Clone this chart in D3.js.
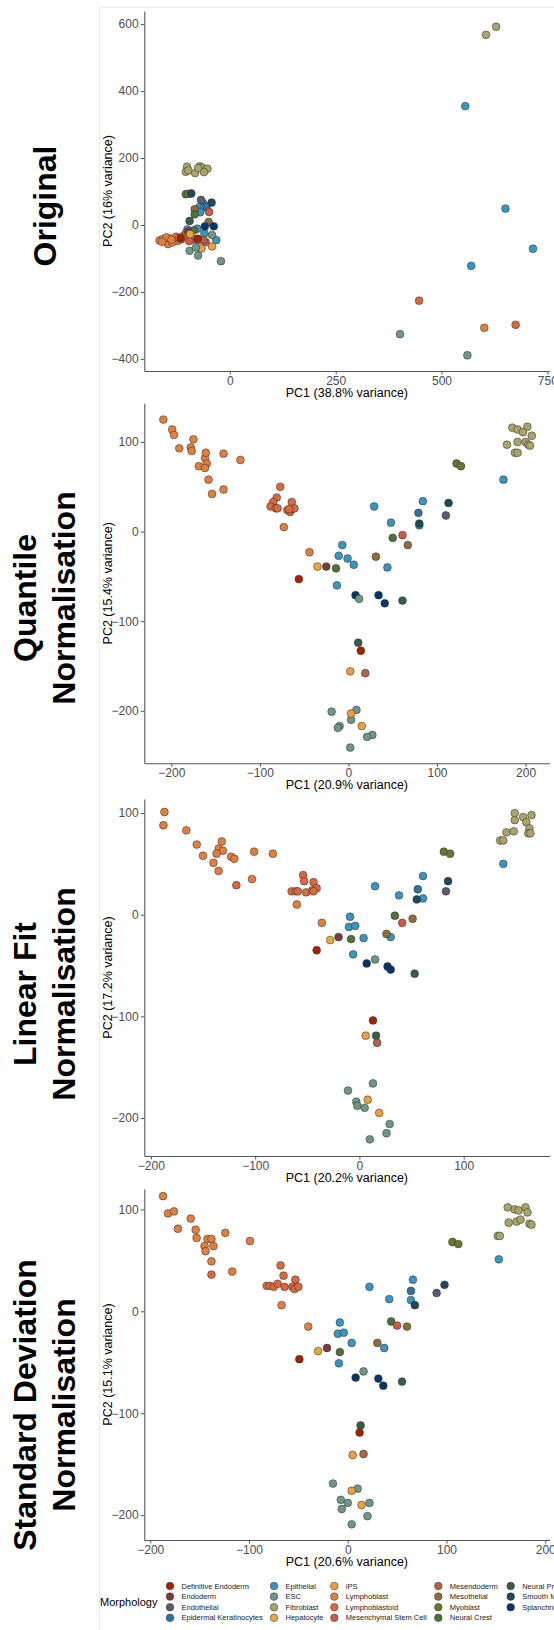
<!DOCTYPE html>
<html>
<head>
<meta charset="utf-8">
<script src="https://cdn.jsdelivr.net/npm/d3@7"></script>
<style>
  body { margin: 0; background: #fff; }
  svg { display: block; font-family: "Liberation Sans", Arial, Helvetica, sans-serif; }
</style>
</head>
<body>
<svg id="chart" width="554" height="1630"></svg>
<script>
// morphology categories and their colours (legend order)
const morphologies = [
  'Definitive Endoderm', 'Endoderm', 'Endothelial', 'Epidermal Keratinocytes',
  'Epithelial', 'ESC', 'Fibroblast', 'Hepatocyte',
  'iPS', 'Lymphoblast', 'Lymphoblastoid', 'Mesenchymal Stem Cell',
  'Mesendoderm', 'Mesothelial', 'Myoblast', 'Neural Crest',
  'Neural Progenitor', 'Smooth Muscle', 'Splanchnic Mesoderm'
];
const morphologyColours = [
  '#a62203', '#7d3b38', '#5d5b73', '#2f71a0',
  '#3b95c1', '#6f9787', '#a9a469', '#e5aa3c',
  '#ee9d41', '#e17f3f', '#d9693f', '#ce5a49',
  '#b06449', '#8d6e3b', '#6c7632', '#507139',
  '#385e4a', '#1e4a5e', '#08366a'
];

// [morphology index, PC1, PC2]
const originalPoints = [
  [6,-101,174],[6,-104,159],[6,-98,163],[6,-82,155],[6,-71,175],[6,-66,172],[6,-53,168],[6,-61,158],[6,-75,170],[6,605,568],[6,629,592],
  [4,556,355],[4,651,49],[4,716,-71],[4,570,-122],[4,-63,65],[4,-72,53],[4,-61,53],[4,-70,38],[4,-100,-13],[4,-77,-11],[4,-60,-25],[4,-32,-45],
  [3,-55,55],[14,-104,92],[14,-99,93],[17,-91,94],[17,-43,67],[2,-68,75],
  [13,-83,47],[13,-50,9],[15,-83,32],[15,-85,-16],[16,-95,12],[18,-59,-4],[18,-38,-4],[11,-49,39],
  [9,-166,-46],[9,-153,-47],[9,-146,-57],[9,-142,-40],[9,-131,-47],[9,-127,-35],[9,-123,-47],[9,-115,-43],[9,-108,-31],
  [9,-158,-42],[9,-136,-52],[9,-150,-37],[9,-138,-44],[9,-160,-50],[9,-120,-38],[9,601,-307],
  [10,447,-226],[10,675,-298],[10,-84,-43],[10,-75,-45],[10,-103,-23],[11,-96,-48],[11,-57,-51],[12,-62,-45],
  [1,-98,-20],[7,-94,-27],[8,-67,-70],[8,-42,-64],[0,-116,-39],[0,-76,-41],
  [5,402,-326],[5,561,-389],[5,-21,-108],[5,-42,-30],[5,-95,-77],[5,-80,-67],[5,-75,-91]
];
const quantilePoints = [
  [9,-209,125],[9,-199,114],[9,-197,108],[9,-191,93],[9,-178,94],[9,-177,90],[9,-175,103],[9,-169,73],[9,-162,82],[9,-161,88],
  [9,-160,76],[9,-162,71],[9,-158,58],[9,-154,42],[9,-141,87],[9,-141,47],[9,-122,80],[9,-73,5],[9,-44,-23],
  [10,-77,50],[10,-81,38],[10,-85,33],[10,-88,28],[10,-82,26],[10,-80,26],[10,-69,24],[10,-66,22],[10,-64,25],[10,-64,33],[10,-61,26],[10,-67,25],
  [6,185,116],[6,191,114],[6,202,117],[6,197,111],[6,207,107],[6,179,97],[6,191,100],[6,200,100],[6,188,88],[6,191,88],[6,203,97],[6,205,96],
  [4,175,58],[4,29,28],[4,84,34],[4,48,10],[4,80,7],[4,-7,-15],[4,-11,-27],[4,-1,-30],[4,6,-37],[4,44,-40],[4,-13,-60],
  [3,79,21],[17,113,32],[17,80,9],[2,110,18],[14,122,76],[14,127,73],[15,50,-7],[15,-14,-41],[11,61,-4],
  [13,67,-15],[13,31,-28],[1,-25,-39],[7,-35,-39],[0,-56,-53],[0,14,-133],
  [18,8,-71],[18,34,-71],[18,41,-80],
  [5,12,-75],[5,-19,-201],[5,9,-199],[5,3,-210],[5,-10,-217],[5,-12,-219],[5,27,-227],[5,21,-229],[5,2,-241],
  [16,61,-77],[16,11,-124],[8,2,-156],[8,3,-203],[8,15,-217],[12,19,-158]
];
const linearFitPoints = [
  [9,-187,101],[9,-188,88],[9,-166,83],[9,-156,69],[9,-150,58],[9,-140,51],[9,-135,65],[9,-132,72],[9,-131,63],[9,-137,60],
  [9,-135,43],[9,-123,57],[9,-120,55],[9,-101,62],[9,-83,60],[9,-103,35],[9,-60,10],[9,-36,-8],
  [10,-118,29],[10,-54,39],[10,-53,33],[10,-44,32],[10,-65,23],[10,-61,23],[10,-59,23],[10,-51,22],[10,-45,24],[10,-41,26],[10,-44,23],
  [6,149,100],[6,157,96],[6,165,98],[6,149,93],[6,160,91],[6,163,85],[6,141,81],[6,148,82],[6,135,73],[6,138,73],[6,162,80],[6,164,80],
  [4,138,50],[4,15,28],[4,61,38],[4,38,19],[4,61,16],[4,-9,-2],[4,-10,-12],[4,-4,-11],[4,4,-23],[4,30,-22],[4,-6,-39],
  [3,56,25],[17,85,33],[17,55,15],[2,83,23],[14,81,62],[14,87,60],[15,34,-1],[15,-8,-24],[11,41,-8],
  [13,51,-4],[13,26,-19],[1,-20,-22],[7,-28,-25],[0,-41,-35],[0,13,-104],
  [18,7,-48],[18,27,-51],[18,30,-54],
  [5,15,-44],[5,13,-166],[5,-11,-173],[5,-3,-184],[5,-2,-188],[5,5,-190],[5,29,-206],[5,26,-215],[5,10,-221],
  [16,53,-58],[16,16,-119],[8,6,-119],[8,8,-182],[8,19,-195],[12,17,-126]
];
const sdPoints = [
  [9,-187,113],[9,-182,96],[9,-176,98],[9,-172,81],[9,-159,91],[9,-154,80],[9,-153,72],[9,-145,64],[9,-144,59],[9,-142,71],
  [9,-138,71],[9,-136,64],[9,-138,49],[9,-124,77],[9,-117,39],[9,-99,69],[9,-67,6],[9,-40,-15],
  [10,-138,36],[10,-68,45],[10,-65,35],[10,-53,31],[10,-82,25],[10,-79,25],[10,-75,24],[10,-71,27],[10,-64,24],[10,-56,24],[10,-54,22],[10,-50,24],
  [6,162,102],[6,169,100],[6,173,99],[6,180,102],[6,182,97],[6,163,87],[6,171,88],[6,175,90],[6,184,86],[6,186,85],[6,152,74],[6,154,74],
  [4,153,51],[4,22,24],[4,66,31],[4,42,12],[4,64,11],[4,-8,-11],[4,-10,-22],[4,-4,-21],[4,4,-31],[4,37,-36],[4,-9,-51],
  [3,64,20],[17,98,26],[17,68,6],[2,90,18],[14,106,68],[14,112,66],[15,44,-10],[15,-8,-40],[11,50,-14],
  [13,60,-15],[13,30,-31],[1,-21,-36],[7,-30,-39],[0,-49,-47],[0,12,-119],
  [18,8,-65],[18,31,-66],[18,36,-73],
  [5,16,-59],[5,-15,-169],[5,10,-174],[5,-7,-185],[5,0,-188],[5,22,-188],[5,-6,-194],[5,20,-201],[5,4,-209],
  [16,55,-69],[16,13,-112],[8,5,-141],[8,4,-176],[8,14,-190],[12,16,-140]
];

const panelTitles = [['Original'], ['Quantile', 'Normalisation'], ['Linear Fit', 'Normalisation'], ['Standard Deviation', 'Normalisation']];
const pc1Labels = ['PC1 (38.8% variance)', 'PC1 (20.9% variance)', 'PC1 (20.2% variance)', 'PC1 (20.6% variance)'];
const pc2Labels = ['PC2 (16% variance)', 'PC2 (15.4% variance)', 'PC2 (17.2% variance)', 'PC2 (15.1% variance)'];
const xTicks = [[0, 250, 500, 750], [-200, -100, 0, 100, 200], [-200, -100, 0, 100], [-200, -100, 0, 100, 200]];
const yTicks = [[-400, -200, 0, 200, 400, 600], [-200, -100, 0, 100], [-200, -100, 0, 100], [-200, -100, 0, 100]];
const xDomains = [[-202, 755], [-230.5, 227], [-206.3, 182.3], [-206, 204.3]];
const yDomains = [[-436, 639], [-258.6, 143.2], [-237.4, 113.8], [-224.4, 120]];
const panelPoints = [originalPoints, quantilePoints, linearFitPoints, sdPoints];

// layout
const plotLeft = 144.3, plotRight = 549.5;
const panelTop = [11, 403.3, 799, 1189];
const panelBottom = [371, 763.3, 1156, 1540];
const titleCentre = [206, 598, 994, 1405];

const svg = d3.select('#chart');
svg.append('rect').attr('width', 554).attr('height', 1630).attr('fill', '#fff');
svg.append('rect')
  .attr('x', 99.5).attr('y', 7.5).attr('width', 600).attr('height', 1700)
  .attr('fill', 'none').attr('stroke', '#ebebeb').attr('stroke-width', 1);

panelPoints.forEach((pts, i) => {
  const x = d3.scaleLinear().domain(xDomains[i]).range([plotLeft, plotRight]);
  const y = d3.scaleLinear().domain(yDomains[i]).range([panelBottom[i], panelTop[i]]);

  const xAxis = svg.append('g')
    .attr('transform', `translate(0,${panelBottom[i]})`)
    .call(d3.axisBottom(x).tickValues(xTicks[i]).tickSize(3.5).tickSizeOuter(0).tickPadding(1.8));
  const yAxis = svg.append('g')
    .attr('transform', `translate(${plotLeft},0)`)
    .call(d3.axisLeft(y).tickValues(yTicks[i]).tickSize(3.5).tickSizeOuter(0).tickPadding(2.2));
  [xAxis, yAxis].forEach(a => {
    a.select('.domain').attr('stroke', '#555').attr('stroke-width', 1.1);
    a.selectAll('.tick line').attr('stroke', '#555').attr('stroke-width', 1);
    a.selectAll('.tick text').attr('fill', '#4d4d4d').style('font-size', '12px')
      .style('font-family', '"Liberation Sans", Arial, sans-serif');
  });

  svg.append('text')
    .attr('x', (plotLeft + plotRight) / 2).attr('y', panelBottom[i] + 26)
    .attr('text-anchor', 'middle').style('font-size', '12.5px').attr('fill', '#000')
    .text(pc1Labels[i]);
  svg.append('text')
    .attr('transform', `translate(108,${(panelTop[i] + panelBottom[i]) / 2}) rotate(-90)`)
    .attr('text-anchor', 'middle').attr('dy', '0.35em').style('font-size', '12.5px').attr('fill', '#000')
    .text(pc2Labels[i]);

  svg.append('g').selectAll('circle')
    .data(pts)
    .enter().append('circle')
    .attr('cx', d => x(d[1]))
    .attr('cy', d => y(d[2]))
    .attr('r', 3.9)
    .attr('fill', d => morphologyColours[d[0]])
    .attr('stroke', '#2b2b2b')
    .attr('stroke-width', 0.5);

  // big rotated panel title
  const lines = panelTitles[i];
  const lineX = lines.length === 1 ? [45] : [25, 64];
  lines.forEach((t, j) => {
    svg.append('text')
      .attr('transform', `translate(${lineX[j]},${titleCentre[i]}) rotate(-90)`)
      .attr('text-anchor', 'middle').attr('dy', '0.35em')
      .style('font-size', '32px').style('font-weight', 'bold').attr('fill', '#000')
      .text(t);
  });
});

// legend
const legendCols = [170, 274, 334.3, 438.3, 510.7];
const legendRow0 = 1586, legendRowStep = 10.6;
svg.append('text')
  .attr('x', 100).attr('y', 1602).attr('dy', '0.35em')
  .style('font-size', '11px').attr('fill', '#000')
  .text('Morphology');
const legend = svg.append('g').selectAll('g')
  .data(morphologies)
  .enter().append('g')
  .attr('transform', (d, k) => `translate(${legendCols[Math.floor(k / 4)]},${legendRow0 + (k % 4) * legendRowStep})`);
legend.append('circle')
  .attr('r', 3.8)
  .attr('fill', (d, k) => morphologyColours[k])
  .attr('stroke', '#2b2b2b').attr('stroke-width', 0.5);
legend.append('text')
  .attr('x', 11.5).attr('dy', '0.35em')
  .style('font-size', '7.5px').attr('fill', '#222')
  .text(d => d);
</script>
</body>
</html>
